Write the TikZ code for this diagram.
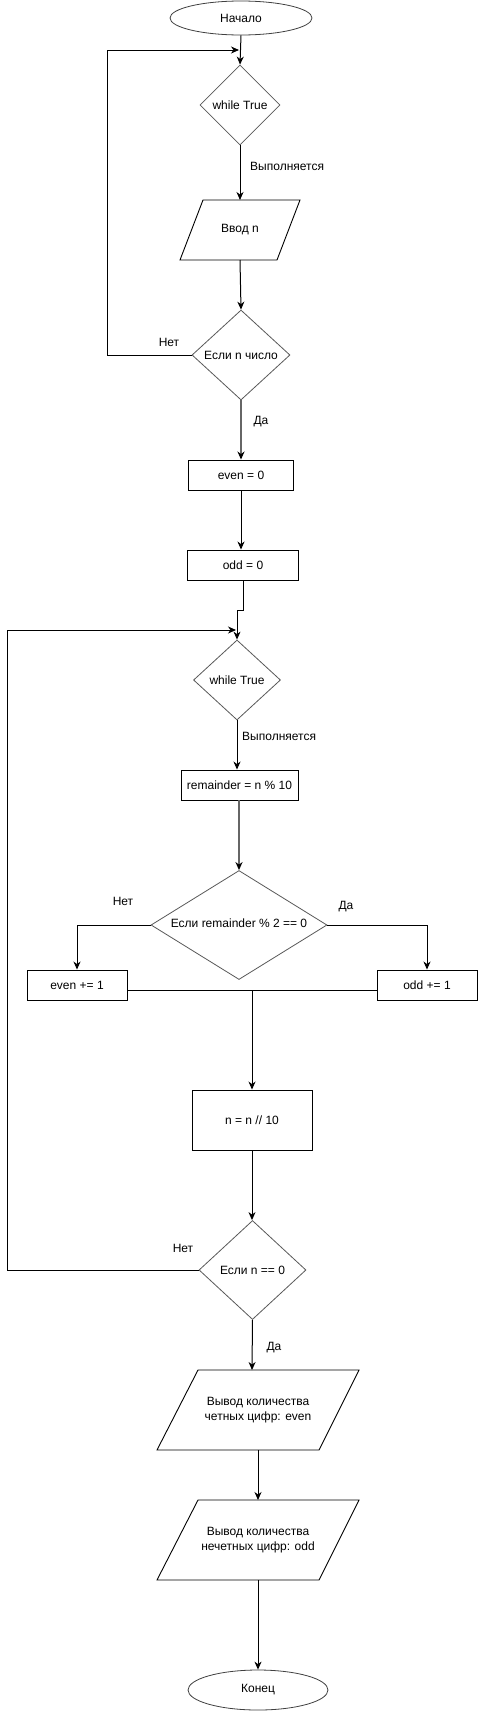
\documentclass[tikz,border=0pt]{standalone}
\usepackage{fontspec}
\setmainfont{Liberation Sans}
\usetikzlibrary{arrows.meta,shapes.geometric,calc}
\tikzset{
  every node/.style={font=\fontsize{12}{14.5}\selectfont},
  term/.style={ellipse,draw=black!75,line width=0.8pt,inner sep=0pt},
  proc/.style={rectangle,draw=black,line width=0.9pt,inner sep=0pt},
  dia/.style={diamond,draw=black!65,line width=0.8pt,inner sep=0pt,aspect=1},
  txt/.style={inner sep=0pt,align=center},
  lbl/.style={inner sep=0pt},
  para/.style={draw=black,line width=0.9pt,line join=miter},
  edge/.style={draw=black,line width=1pt},
  arr/.style={edge,-{Stealth[length=8pt,width=7pt,inset=2.5pt]}},
  garr/.style={draw=black!60,line width=1.6pt,-{Stealth[length=8pt,width=7pt,inset=2.5pt,color=black]}},
}
\begin{document}
\begin{tikzpicture}[x=1pt,y=-1pt]
\useasboundingbox (0,0) rectangle (478,1711);
\fill[white] (0,0) rectangle (478,1711);

% nodes
\node[term,minimum width=142,minimum height=34] (start) at (241,18) {Начало};

\node[dia,minimum width=80,minimum height=80] (d1) at (240,105) {};
\node[txt] (d1t) at (d1) {while True};

% parallelogram Ввод n
\coordinate (p1top) at (240,200);
\coordinate (p1bot) at (240,260);
\draw[para] (203,200) -- (300,200) -- (277,260) -- (180,260) -- cycle;
\node[txt] (p1t) at (240,230) {Ввод n};

\node[dia,minimum width=98,minimum height=90] (d2) at (241,355) {};
\node[txt] (d2t) at (d2) {Если n число};

\node[proc,minimum width=105,minimum height=30] (e0) at (241,475) {even = 0};
\node[proc,minimum width=111,minimum height=30] (o0) at (243,565) {odd = 0};

\node[dia,minimum width=87,minimum height=80] (d3) at (237,680) {};
\node[txt] (d3t) at (d3) {while True};

\node[proc,minimum width=117,minimum height=30] (rem) at (239.5,785) {remainder = n \% 10};

\node[dia,minimum width=176,minimum height=109] (d4) at (239,925) {};
\node[txt] (d4t) at ($(d4)+(0,-2)$) {Если remainder \% 2 == 0};

\node[proc,minimum width=100,minimum height=30] (ev1) at (77,985) {even += 1};
\node[proc,minimum width=100,minimum height=30] (od1) at (427,985) {odd += 1};

\node[proc,minimum width=120,minimum height=60] (nd) at (252,1120) {n = n // 10};

\node[dia,minimum width=107,minimum height=99] (d5) at (252.5,1270) {};
\node[txt] (d5t) at (d5) {Если n == 0};

% parallelogram output even
\coordinate (p2top) at (252,1370);
\coordinate (p2bot) at (258,1450);
\draw[para] (198,1370) -- (359,1370) -- (319,1450) -- (157,1450) -- cycle;
\node[txt] (p2t) at (258,1410) {Вывод количества\\четных цифр: even};

% parallelogram output odd
\coordinate (p3top) at (258,1500);
\coordinate (p3bot) at (258,1580);
\draw[para] (198,1500) -- (359,1500) -- (319,1580) -- (157,1580) -- cycle;
\node[txt] (p3t) at (258,1540) {Вывод количества\\нечетных цифр: odd};

\node[term,minimum width=140,minimum height=40] (fin) at (258,1690) {Конец};

% coordinates for loops
\coordinate (j1) at (239,50);
\coordinate (j2) at (236,630);
\coordinate (m1) at (252,990);

% connectors
\draw[arr] (start.south) -- (d1.north);
\draw[arr] (d2.west) -- (107,355) -- (107,50) -- (j1);

\draw[arr] (d1.south) -- (p1top);
\node[lbl,anchor=west] (l1) at (250,166) {Выполняется};

\draw[arr] (p1bot) -- (d2.north);
\node[lbl] (lnet1) at (169,342) {Нет};

\draw[garr] (d2.south) -- (e0.north);
\node[lbl] (lda1) at (261,422) {Да};

\draw[arr] (e0.south) -- (e0.south |- o0.north);

\draw[arr] (243,580) -- (243,610) -- (237,610) -- (d3.north);
\draw[arr] (d5.west) -- (7,1270) -- (7,630) -- (j2);
\node[lbl] (lnet3) at (183,1248) {Нет};

\draw[arr] (d3.south) -- (d3.south |- rem.north);
\node[lbl,anchor=west] (l2) at (242,736) {Выполняется};

\draw[garr] (rem.south -| d4.north) -- (d4.north);

\draw[arr] (d4.west) -| (ev1.north);
\draw[arr] (d4.east) -| (od1.north);
\node[lbl] (lnet2) at (123,901) {Нет};
\node[lbl] (lda2) at (346,907) {Да};

\draw[edge] (ev1.east |- m1) -- (od1.west |- m1);
\draw[arr] (m1) -- (m1 |- nd.north);

\draw[arr] (nd.south) -- (nd.south |- d5.north);

\draw[arr] (d5.south) -- (p2top);
\node[lbl] (lda3) at (274,1348) {Да};

\draw[arr] (p2bot) -- (p3top);
\draw[arr] (p3bot) -- (fin.north);
\end{tikzpicture}
\end{document}
